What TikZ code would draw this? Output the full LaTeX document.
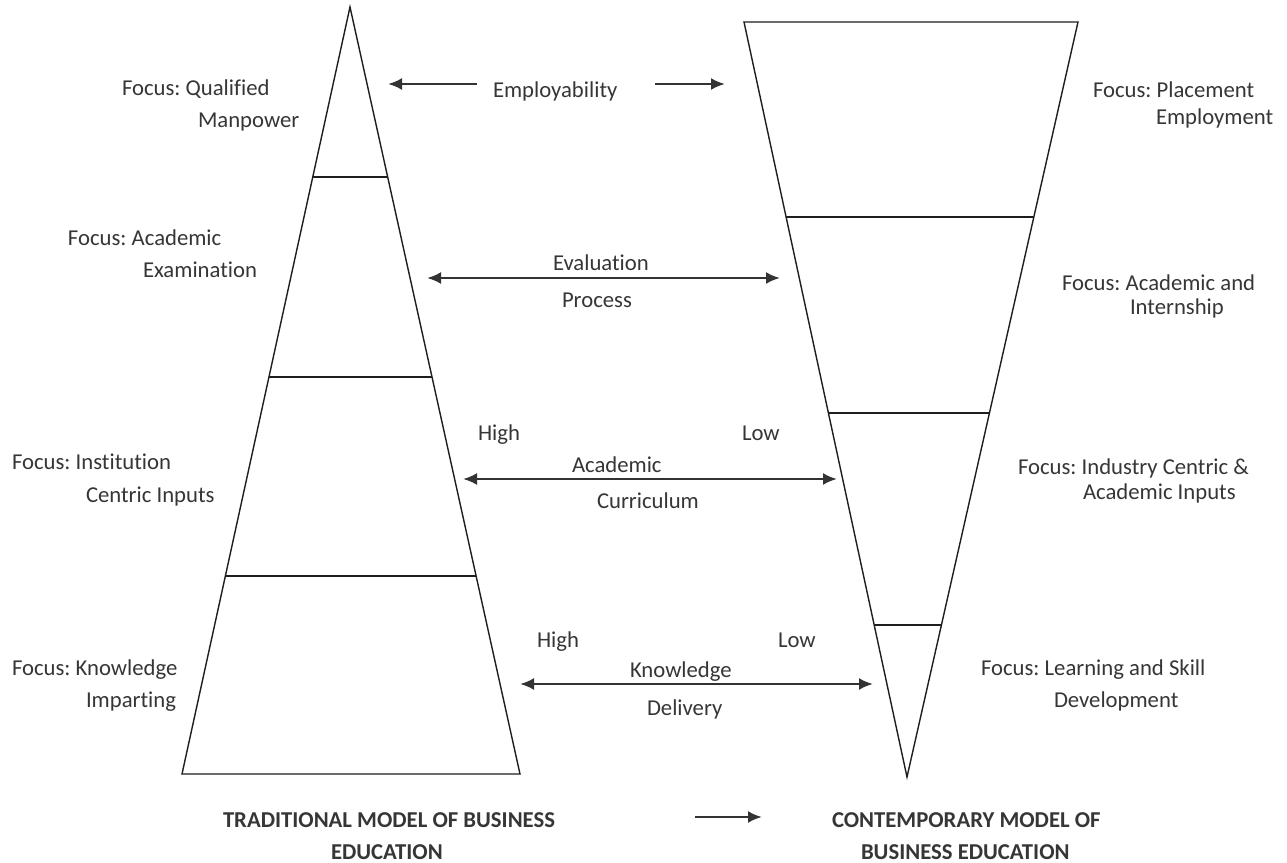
\documentclass[tikz,border=0pt]{standalone}
\usepackage{fontspec}
\setmainfont{Carlito}[Ligatures=NoCommon]
\usetikzlibrary{arrows.meta,calc}
\definecolor{txt}{HTML}{363636}
\definecolor{ln}{HTML}{1E1E1E}
\definecolor{arr}{HTML}{333333}
\frenchspacing
\tikzset{
  lbl/.style={anchor=base west,inner sep=0pt,outer sep=0pt,text=txt,font=\fontsize{11.35}{13}\selectfont},
  ttl/.style={lbl,font=\fontsize{11.35}{13}\selectfont\bfseries},
  shape line/.style={draw=ln,line width=0.7pt,line join=miter},
  conn/.style={draw=arr,line width=1.2pt,-{Latex[length=7pt,width=6pt]}},
  conn2/.style={draw=arr,line width=1.2pt,{Latex[length=7pt,width=6pt]}-{Latex[length=7pt,width=6pt]}}
}
\begin{document}
\begin{tikzpicture}[x=0.5pt,y=-0.5pt]
\useasboundingbox[fill=white] (0,0) rectangle (1287,863);
% left triangle
\coordinate (LA) at (350,7);
\coordinate (LBL) at (182,774);
\coordinate (LBR) at (520,774);
\draw[shape line] (LA) -- (LBL) -- (LBR) -- cycle;
\foreach \t in {0.2216,0.4824,0.7419}{
  \draw[shape line] ($(LA)!\t!(LBL)$) -- ($(LA)!\t!(LBR)$);
}
% right inverted triangle
\coordinate (RTL) at (744,22);
\coordinate (RTR) at (1078,22);
\coordinate (RB) at (907,777);
\draw[shape line] (RTL) -- (RTR) -- (RB) -- cycle;
\foreach \t in {0.2583,0.5179,0.7987}{
  \draw[shape line] ($(RTL)!\t!(RB)$) -- ($(RTR)!\t!(RB)$);
}
% left labels
\node[lbl] (q1) at (122,95) {Focus: Qualified};
\node[lbl] (q2) at (198,127) {Manpower};
\node[lbl] (a1) at (68,245) {Focus: Academic};
\node[lbl] (a2) at (143,277) {Examination};
\node[lbl] (i1) at (12,469) {Focus: Institution};
\node[lbl] (i2) at (86,502) {Centric Inputs};
\node[lbl] (k1) at (12,675) {Focus: Knowledge};
\node[lbl] (k2) at (86,707) {Imparting};
% right labels
\node[lbl] (p1) at (1093,97) {Focus: Placement};
\node[lbl] (p2) at (1156,124) {Employment};
\node[lbl] (ai1) at (1062,290) {Focus: Academic and};
\node[lbl] (ai2) at (1130,314) {Internship};
\node[lbl] (ic1) at (1018,474) {Focus: Industry Centric \&};
\node[lbl] (ic2) at (1083,499) {Academic Inputs};
\node[lbl] (ls1) at (981,675) {Focus: Learning and Skill};
\node[lbl] (ls2) at (1054,707) {Development};
% middle labels
\node[lbl] (emp) at (493,97) {Employability};
\node[lbl] (ev1) at (553,270) {Evaluation};
\node[lbl] (ev2) at (562,307) {Process};
\node[lbl] (hi1) at (478,440) {High};
\node[lbl] (lo1) at (742,440) {Low};
\node[lbl] (ac1) at (572,472) {Academic};
\node[lbl] (ac2) at (597,508) {Curriculum};
\node[lbl] (hi2) at (537,647) {High};
\node[lbl] (lo2) at (778,647) {Low};
\node[lbl] (kn1) at (630,677) {Knowledge};
\node[lbl] (kn2) at (647,715) {Delivery};
% titles
\node[ttl] (t1) at (223,827) {TRADITIONAL MODEL OF BUSINESS};
\node[ttl] (t2) at (331,859) {EDUCATION};
\node[ttl] (c1) at (832,827) {CONTEMPORARY MODEL OF};
\node[ttl] (c2) at (861,859) {BUSINESS EDUCATION};
% arrow end points
\coordinate (e1s) at (477,84); \coordinate (e1t) at (388,84);
\coordinate (e2s) at (655,84); \coordinate (e2t) at (725,84);
\coordinate (evL) at (427,278); \coordinate (evR) at (780,278);
\coordinate (acL) at (463,479); \coordinate (acR) at (837,479);
\coordinate (knL) at (520,684); \coordinate (knR) at (873,684);
\coordinate (bs) at (695,817); \coordinate (bt) at (762,817);
\draw[conn] (e1s) -- (e1t);
\draw[conn] (e2s) -- (e2t);
\draw[conn2] (evL) -- (evR);
\draw[conn2] (acL) -- (acR);
\draw[conn2] (knL) -- (knR);
\draw[conn] (bs) -- (bt);
\end{tikzpicture}
\end{document}
